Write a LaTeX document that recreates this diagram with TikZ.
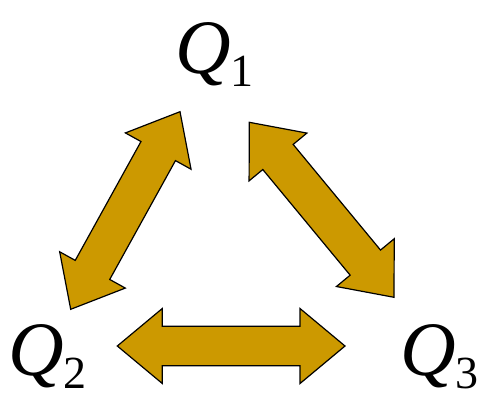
\documentclass[tikz,border=0pt]{standalone}
\usepackage{fontspec}
\newfontfamily\qfont{Liberation Serif}
\newfontfamily\qifont{Liberation Serif Italic}
\usetikzlibrary{calc}
\definecolor{gold}{HTML}{CC9900}
\tikzset{
  dblarr/.style={fill=gold,draw=black,line width=1.2pt,line join=miter},
  qlabel/.style={anchor=base west,inner sep=0pt}
}
\newcommand{\qsym}[1]{{\qifont\fontsize{77}{77}\selectfont Q}\raisebox{-13pt}{\qfont\fontsize{46}{46}\selectfont #1}}
\newcommand{\dblarrow}[2]{%
  \draw[dblarr] (#1)
   -- ($(#1)!45pt!(#2)!37.5pt!90:(#2)$)
   -- ($(#1)!45pt!(#2)!19.7pt!90:(#2)$)
   -- ($(#2)!45pt!(#1)!19.7pt!-90:(#1)$)
   -- ($(#2)!45pt!(#1)!37.5pt!-90:(#1)$)
   -- (#2)
   -- ($(#2)!45pt!(#1)!37.5pt!90:(#1)$)
   -- ($(#2)!45pt!(#1)!19.7pt!90:(#1)$)
   -- ($(#1)!45pt!(#2)!19.7pt!-90:(#2)$)
   -- ($(#1)!45pt!(#2)!37.5pt!-90:(#2)$)
   -- cycle;}
\begin{document}
\begin{tikzpicture}[x=1pt,y=-1pt]
\useasboundingbox (0,0) rectangle (478,398);
\node[qlabel] (q1) at (175,74) {\qsym{1}};
\node[qlabel] (q2) at (8,375) {\qsym{2}};
\node[qlabel] (q3) at (400,375) {\qsym{3}};
\coordinate (a1) at (117.3,346);
\coordinate (b1) at (345,346);
\coordinate (a2) at (70.7,309.3);
\coordinate (b2) at (180,111.7);
\coordinate (a3) at (249.3,122.3);
\coordinate (b3) at (394,297.3);
\dblarrow{a1}{b1}
\dblarrow{a2}{b2}
\dblarrow{a3}{b3}
\end{tikzpicture}
\end{document}
